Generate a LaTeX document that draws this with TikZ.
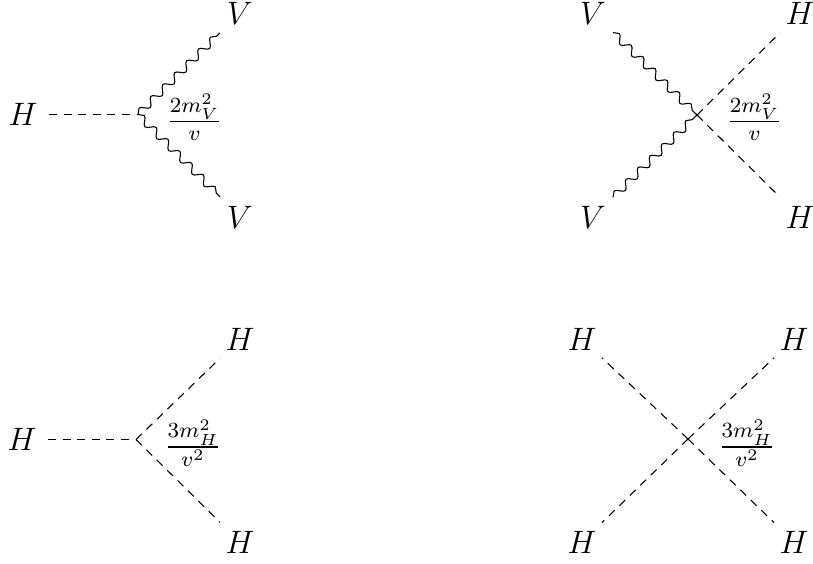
\documentclass[tikz,border=0pt]{standalone}
\usepackage{amsmath,amssymb}
\usepackage{tikz}
\usetikzlibrary{decorations.pathmorphing}

\tikzset{
  scalar/.style={dash pattern=on 3pt off 2.4pt},
  vector/.style={decorate,decoration={snake,segment length=6.2pt,amplitude=1.4pt}},
  ext/.style={inner sep=0pt,outer sep=0pt,minimum size=14.8pt},
  extin/.style={ext,minimum width=19.2pt},
  extlow/.style={ext,minimum height=17pt},
}

\begin{document}
\begin{tikzpicture}[x=0.37pt,y=0.37pt,every node/.style={font=\fontsize{11.5}{14}\selectfont}]
  \useasboundingbox (0,0) rectangle (813,563);

  % HVV
  \coordinate (hvv) at (138,448.5);
  \node[extin] (hvvH) at (23,448.5) {$H$};
  \node[ext] (hvvA) at (240,550) {$V$};
  \node[ext] (hvvB) at (240,346) {$V$};
  \draw[scalar] (hvvH) -- (hvv);
  \draw[vector] (hvv) -- (hvvA);
  \draw[vector] (hvv) -- (hvvB);
  \node (hvvG) at (194.5,445.5) {$\frac{2m_V^2}{v}$};

  % HHVV
  \coordinate (hhvv) at (697,448);
  \node[ext] (hhvvA) at (593,550) {$V$};
  \node[ext] (hhvvB) at (593,346) {$V$};
  \node[ext] (hhvvC) at (800,550) {$H$};
  \node[ext] (hhvvD) at (800,346) {$H$};
  \draw[vector] (hhvvA) -- (hhvv);
  \draw[vector] (hhvvB) -- (hhvv);
  \draw[scalar] (hhvv) -- (hhvvC);
  \draw[scalar] (hhvv) -- (hhvvD);
  \node (hhvvG) at (754.5,445.5) {$\frac{2m_V^2}{v}$};

  % HHH
  \coordinate (hhh) at (136,123.5);
  \node[extin] (hhhH) at (22,123.5) {$H$};
  \node[ext] (hhhA) at (240,224) {$H$};
  \node[extlow] (hhhB) at (240,21) {$H$};
  \draw[scalar] (hhhH) -- (hhh);
  \draw[scalar] (hhh) -- (hhhA);
  \draw[scalar] (hhh) -- (hhhB);
  \node (hhhG) at (193,120) {$\frac{3m_H^2}{v^2}$};

  % HHHH
  \coordinate (hhhh) at (688,124);
  \node[ext] (hhhhA) at (582,224) {$H$};
  \node[extlow] (hhhhB) at (582,21) {$H$};
  \node[ext] (hhhhC) at (794,224) {$H$};
  \node[extlow] (hhhhD) at (794,21) {$H$};
  \draw[scalar] (hhhh) -- (hhhhA);
  \draw[scalar] (hhhh) -- (hhhhB);
  \draw[scalar] (hhhh) -- (hhhhC);
  \draw[scalar] (hhhh) -- (hhhhD);
  \node (hhhhG) at (747,120) {$\frac{3m_H^2}{v^2}$};
\end{tikzpicture}
\end{document}
